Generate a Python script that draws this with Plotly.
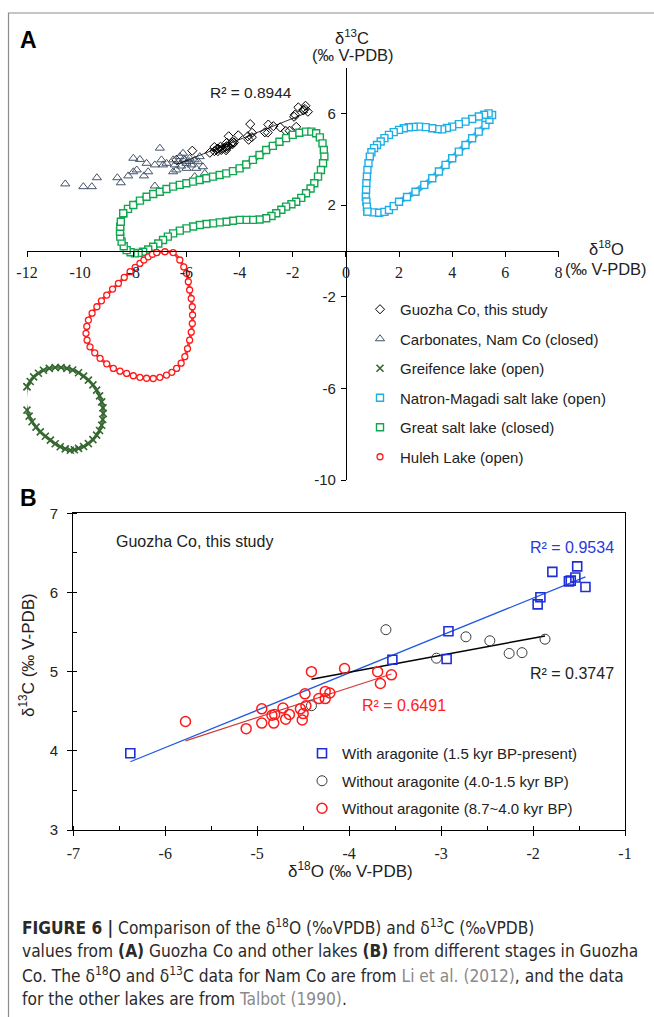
import numpy as np
import plotly.graph_objects as go

W, H = 654, 1017


def fx(p):
    return p / W


def fy(p):
    return 1 - p / H


# ---------------- Panel B data (Guozha Co, this study) ----------------
arag_x = [-6.38, -3.53, -2.94, -2.92, -1.95, -1.92, -1.79, -1.61, -1.59, -1.54, -1.52, -1.43]
arag_y = [3.97, 5.15, 5.16, 5.51, 5.85, 5.94, 6.26, 6.14, 6.15, 6.19, 6.33, 6.07]

mid_x = [-4.41, -3.60, -3.05, -2.73, -2.47, -2.26, -2.12, -1.87]
mid_y = [4.57, 5.53, 5.17, 5.44, 5.39, 5.23, 5.24, 5.41]

early_x = [-5.78, -5.12, -4.95, -4.95, -4.84, -4.81, -4.82, -4.72, -4.69, -4.65, -4.51, -4.53,
           -4.50, -4.48, -4.47, -4.41, -4.33, -4.26, -4.26, -4.21, -4.05, -3.69, -3.54, -3.66]
early_y = [4.37, 4.28, 4.53, 4.35, 4.45, 4.46, 4.35, 4.54, 4.40, 4.46, 4.39, 4.53,
           4.47, 4.72, 4.57, 5.00, 4.66, 4.66, 4.75, 4.73, 5.04, 5.00, 4.96, 4.85]

# ---------------- Panel A data ----------------
namco_x = [-10.56, -9.88, -9.56, -9.37, -8.60, -8.47, -8.00, -7.75, -8.00, -7.87, -8.19, -7.60,
           -7.50, -7.44, -7.19, -7.00, -6.94, -6.88, -7.19, -6.50, -6.44, -6.38, -6.25, -6.13,
           -6.06, -6.00, -5.88, -5.81, -5.69, -5.63, -5.56, -5.50, -5.38, -5.31, -5.69, -6.00,
           -6.50, -6.75, -6.30, -6.10, -5.90, -6.20]
namco_y = [2.92, 2.80, 2.80, 3.19, 3.19, 2.97, 4.04, 3.99, 3.45, 3.53, 3.27, 3.27,
           3.82, 3.45, 3.75, 4.48, 3.97, 3.75, 2.83, 3.97, 3.75, 3.53, 4.11, 4.26,
           3.97, 3.82, 4.04, 3.75, 3.97, 3.60, 3.89, 4.11, 3.67, 3.38, 3.24, 3.60,
           3.45, 3.82, 3.90, 4.00, 3.90, 3.70]

greif_x = [-12.00, -11.88, -11.75, -11.57, -11.38, -11.16, -10.94, -10.72, -10.50, -10.28, -10.06,
           -9.87, -9.69, -9.52, -9.38, -9.27, -9.19, -9.14, -9.13, -9.15, -9.19, -9.27, -9.38,
           -9.52, -9.69, -9.87, -10.06, -10.22, -10.37, -10.56, -10.75, -10.94, -11.12, -11.31,
           -11.50, -11.66, -11.81, -11.92, -12.00, -12.05, -12.06, -12.00]
greif_y = [-5.93, -5.70, -5.50, -5.34, -5.21, -5.13, -5.09, -5.09, -5.13, -5.20, -5.32,
           -5.47, -5.64, -5.85, -6.08, -6.33, -6.59, -6.85, -7.10, -7.36, -7.61, -7.84, -8.04,
           -8.24, -8.41, -8.54, -8.62, -8.68, -8.70, -8.64, -8.55, -8.42, -8.26, -8.09,
           -7.90, -7.69, -7.46, -7.21, -6.95, -6.72, -6.52, -5.93]

natron_x = [0.81, 1.03, 1.25, 1.45, 1.62, 1.80, 2.00, 2.30, 2.62, 2.95, 3.25, 3.50, 3.75, 4.00,
            4.25, 4.50, 4.75, 5.00, 5.25, 5.40, 5.50, 5.37, 5.20, 5.00, 4.75, 4.50, 4.25, 4.00,
            3.80, 3.62, 3.45, 3.25, 3.00, 2.75, 2.55, 2.37, 2.18, 2.00, 1.80, 1.62, 1.45, 1.31,
            1.17, 1.06, 0.96, 0.90, 0.85, 0.81, 0.79, 0.77, 0.76, 0.75, 0.77, 0.79, 0.81]
natron_y = [1.71, 1.68, 1.66, 1.70, 1.78, 1.95, 2.14, 2.35, 2.58, 2.88, 3.17, 3.46, 3.75, 4.04,
            4.33, 4.62, 4.91, 5.20, 5.49, 5.72, 5.93, 6.00, 5.94, 5.86, 5.75, 5.64, 5.53, 5.42,
            5.36, 5.30, 5.31, 5.35, 5.40, 5.42, 5.41, 5.39, 5.35, 5.28, 5.18, 5.06, 4.92, 4.77,
            4.62, 4.48, 4.30, 4.11, 3.82, 3.53, 3.24, 2.95, 2.66, 2.36, 2.15, 1.93, 1.71]

gsl_x = [-8.38, -8.20, -8.00, -7.75, -7.50, -7.25, -7.00, -6.75, -6.50, -6.25, -6.00, -5.75,
         -5.50, -5.25, -5.00, -4.75, -4.50, -4.25, -4.00, -3.75, -3.50, -3.25, -3.00, -2.75,
         -2.50, -2.25, -2.00, -1.75, -1.50, -1.30, -1.12, -0.98, -0.88, -0.83, -0.81, -0.86,
         -0.94, -1.05, -1.19, -1.33, -1.50, -1.68, -1.87, -2.05, -2.25, -2.43, -2.62, -2.80,
         -3.00, -3.25, -3.50, -3.75, -4.00, -4.25, -4.50, -4.75, -5.00, -5.25, -5.50, -5.75,
         -6.00, -6.25, -6.50, -6.70, -6.88, -7.06, -7.25, -7.44, -7.63, -7.80, -7.94, -8.10,
         -8.25, -8.36, -8.44, -8.49, -8.50, -8.49, -8.47, -8.38]
gsl_y = [1.64, 1.83, 2.00, 2.19, 2.36, 2.48, 2.58, 2.70, 2.80, 2.88, 2.95, 3.02,
         3.09, 3.17, 3.24, 3.31, 3.38, 3.48, 3.60, 3.77, 3.97, 4.18, 4.40, 4.58,
         4.76, 4.92, 5.06, 5.15, 5.20, 5.20, 5.13, 4.95, 4.69, 4.40, 4.11, 3.82,
         3.53, 3.24, 2.95, 2.72, 2.51, 2.31, 2.14, 2.03, 1.93, 1.79, 1.64, 1.52,
         1.42, 1.37, 1.35, 1.35, 1.35, 1.31, 1.27, 1.24, 1.20, 1.17, 1.13, 1.06,
         0.98, 0.88, 0.76, 0.62, 0.47, 0.32, 0.18, 0.06, -0.04, -0.09, -0.11, -0.06,
         0.03, 0.20, 0.40, 0.62, 0.83, 1.05, 1.27, 1.64]

huleh_x = [-7.12, -6.81, -6.50, -6.25, -6.10, -6.00, -5.93, -5.88, -5.82, -5.78, -5.77, -5.78,
           -5.82, -5.88, -5.96, -6.06, -6.20, -6.37, -6.55, -6.75, -7.00, -7.25, -7.50, -7.75,
           -8.00, -8.25, -8.50, -8.75, -9.00, -9.25, -9.45, -9.63, -9.74, -9.78, -9.75, -9.69,
           -9.55, -9.37, -9.20, -9.00, -8.78, -8.56, -8.34, -8.12, -7.93, -7.75, -7.60, -7.44,
           -7.28, -7.12]
huleh_y = [-0.08, -0.04, -0.08, -0.40, -0.70, -0.98, -1.35, -1.71, -2.08, -2.44, -2.80, -3.17,
           -3.55, -3.90, -4.27, -4.62, -4.90, -5.13, -5.30, -5.42, -5.52, -5.57, -5.56, -5.52,
           -5.45, -5.35, -5.25, -5.13, -4.93, -4.69, -4.45, -4.19, -3.90, -3.60, -3.30, -3.02,
           -2.72, -2.44, -2.18, -1.93, -1.67, -1.42, -1.16, -0.91, -0.72, -0.55, -0.40, -0.26,
           -0.15, -0.08]

guozha_x = arag_x + mid_x + early_x
guozha_y = arag_y + mid_y + early_y

# tick labels
xa_ticks = list(range(-12, 9, 2))
ya_ticks = [-10, -6, -2, 2, 6]
xb_ticks = list(range(-7, 0))
yb_ticks = [3, 4, 5, 6, 7]

r2_all = "R² = 0.8944"
r2_arag = "R² = 0.9534"
r2_mid = "R² = 0.3747"
r2_early = "R² = 0.6491"


def fit_line(x, y):
    k, b = np.polyfit(x, y, 1)
    xs = np.array([min(x), max(x)])
    return xs, k * xs + b


SANS = "Liberation Sans, Arial, sans-serif"
SERIF = "Liberation Serif, Times New Roman, serif"

fig = go.Figure()

# ---------------- Panel A traces ----------------
loops = [
    ("Greifence lake (open)", greif_x, greif_y, "#34662f", "x-thin", 7, 1.6, 3),
    ("Natron-Magadi salt lake (open)", natron_x, natron_y, "#1eaee6", "square", 7, 1.4, 5.5),
    ("Great salt lake (closed)", gsl_x, gsl_y, "#12a650", "square", 7, 1.4, 5.5),
    ("Huleh Lake (open)", huleh_x, huleh_y, "#ff1a1a", "circle", 6, 1.3, 3),
]

fig.add_trace(go.Scatter(x=guozha_x, y=guozha_y, mode="markers", name="Guozha Co, this study",
                         legendgroup="g1", legend="legend",
                         marker=dict(symbol="diamond-open", size=7, color="black", line=dict(width=1)),
                         xaxis="x", yaxis="y"))
fig.add_trace(go.Scatter(x=namco_x, y=namco_y, mode="markers", name="Carbonates, Nam Co (closed)",
                         legendgroup="g2", legend="legend",
                         marker=dict(symbol="triangle-up-open", size=8, color="#44546a", line=dict(width=1)),
                         xaxis="x", yaxis="y"))
lx, ly = fit_line(guozha_x, guozha_y)
fig.add_trace(go.Scatter(x=lx, y=ly, mode="lines", showlegend=False, legendgroup="g1",
                         line=dict(color="black", width=0.8), xaxis="x", yaxis="y"))

for i, (name, xs, ys, col, sym, sz, lw, bw) in enumerate(loops):
    grp = "g%d" % (i + 3)
    fig.add_trace(go.Scatter(x=xs, y=ys, mode="lines", showlegend=False, legendgroup=grp,
                             line=dict(color=col, width=bw, shape="spline", smoothing=0.8),
                             opacity=0.85, cliponaxis=False, xaxis="x", yaxis="y"))
    if sym == "x-thin":
        mk = dict(symbol="x-thin", size=sz, line=dict(width=lw, color=col), color=col)
    else:
        mk = dict(symbol=sym, size=sz, color="white", line=dict(width=lw, color=col))
    fig.add_trace(go.Scatter(x=xs, y=ys, mode="markers", name=name, legendgroup=grp, legend="legend",
                             marker=mk, cliponaxis=False, xaxis="x", yaxis="y"))

# ---------------- Panel B traces ----------------
bx, by = fit_line(arag_x, arag_y)
fig.add_trace(go.Scatter(x=bx, y=by, mode="lines", showlegend=False, line=dict(color="#1f5ae0", width=1.3),
                         xaxis="x2", yaxis="y2"))
mx, my = fit_line(mid_x, mid_y)
fig.add_trace(go.Scatter(x=mx, y=my, mode="lines", showlegend=False, line=dict(color="black", width=1.5),
                         xaxis="x2", yaxis="y2"))
ex, ey = fit_line(early_x, early_y)
fig.add_trace(go.Scatter(x=ex, y=ey, mode="lines", showlegend=False, line=dict(color="#d03a3a", width=1.2),
                         xaxis="x2", yaxis="y2"))

fig.add_trace(go.Scatter(x=arag_x, y=arag_y, mode="markers", name="With aragonite (1.5 kyr BP-present)",
                         legend="legend2", legendgroup="b1",
                         marker=dict(symbol="square-open", size=9, color="#1f2fd6", line=dict(width=1.6)),
                         xaxis="x2", yaxis="y2"))
fig.add_trace(go.Scatter(x=mid_x, y=mid_y, mode="markers", name="Without aragonite (4.0-1.5 kyr BP)",
                         legend="legend2", legendgroup="b2",
                         marker=dict(symbol="circle-open", size=10, color="#3a3a3a", line=dict(width=1)),
                         xaxis="x2", yaxis="y2"))
fig.add_trace(go.Scatter(x=early_x, y=early_y, mode="markers", name="Without aragonite (8.7~4.0 kyr BP)",
                         legend="legend2", legendgroup="b3",
                         marker=dict(symbol="circle-open", size=10, color="#ff1a1a", line=dict(width=1.5)),
                         xaxis="x2", yaxis="y2"))


def lab(v):
    return str(v).replace("\u2212", "-")


axis_common = dict(showgrid=False, zeroline=False, showline=True, linecolor="black", linewidth=1.3,
                   ticks="outside", ticklen=5, tickcolor="black", tickwidth=1.2, automargin=False)

fig.update_layout(
    width=W, height=H, margin=dict(l=0, r=0, t=0, b=0),
    paper_bgcolor="white", plot_bgcolor="rgba(0,0,0,0)",
    template="none",
    font=dict(family=SANS, size=15, color="#222"),
    xaxis=dict(domain=[fx(27), fx(558.5)], range=[-12, 8], anchor="free", position=fy(250.8),
               tickvals=xa_ticks, ticktext=[lab(v) for v in xa_ticks],
               tickfont=dict(family=SERIF, size=16, color="#222"), ticklabelstandoff=2, **axis_common),
    yaxis=dict(domain=[fy(480), fy(67.5)], range=[-10, 8], anchor="free", position=fx(346.1),
               tickvals=ya_ticks, ticktext=[lab(v) for v in ya_ticks],
               tickfont=dict(family=SANS, size=15, color="#222"), ticklabelstandoff=2, **axis_common),
    xaxis2=dict(domain=[fx(73.3), fx(625)], range=[-7, -1], anchor="y2", mirror=True,
                tickvals=xb_ticks, ticktext=[lab(v) for v in xb_ticks],
                minor=dict(dtick=0.5, ticks="inside", ticklen=4, tickcolor="black", showgrid=False),
                tickfont=dict(family=SERIF, size=16, color="#222"), ticklabelstandoff=4, **axis_common),
    yaxis2=dict(domain=[fy(830), fy(513.3)], range=[3, 7], anchor="x2", mirror=True,
                tickvals=yb_ticks, ticktext=[lab(v) for v in yb_ticks],
                minor=dict(dtick=0.5, ticks="inside", ticklen=4, tickcolor="black", showgrid=False),
                tickfont=dict(family=SANS, size=15, color="#222"), ticklabelstandoff=6, **axis_common),
    legend=dict(x=fx(360), y=fy(293), xanchor="left", yanchor="top", bgcolor="rgba(0,0,0,0)",
                font=dict(family=SANS, size=15, color="#222"), traceorder="grouped", tracegroupgap=7,
                itemwidth=30, borderwidth=0),
    legend2=dict(x=fx(302), y=fy(737), xanchor="left", yanchor="top", bgcolor="rgba(0,0,0,0)",
                 font=dict(family=SANS, size=15, color="#222"), traceorder="grouped", tracegroupgap=5,
                 itemwidth=30, borderwidth=0),
    showlegend=True,
)

ann = []


def add(text, x, y, size=15, color="#222", family=SANS, angle=0, xanchor="center"):
    ann.append(dict(text=text, x=fx(x), y=fy(y), xref="paper", yref="paper", showarrow=False,
                    xanchor=xanchor, yanchor="middle", textangle=angle,
                    font=dict(size=size, color=color, family=family)))


add("<b>A</b>", 28, 40, size=23, color="black")
add("<b>B</b>", 28, 498, size=23, color="black")
add("δ<sup>13</sup>C", 352, 37, size=16.5)
add("(‰ V-PDB)", 353, 55, size=16.5)
add("δ<sup>18</sup>O", 606, 248, size=16.5)
add("(‰ V-PDB)", 606, 269, size=16.5)
add(r2_all, 251, 93, size=15.5)
add("Guozha Co, this study", 194.5, 541, size=16)
add(r2_arag, 571.7, 547, size=16, color="#2b39d9")
add(r2_mid, 571.7, 673, size=16)
add(r2_early, 404, 705, size=16, color="#ff2020")
add("δ<sup>13</sup>C (‰ V-PDB)", 27, 655, size=17, angle=-90)
add("δ<sup>18</sup>O (‰ V-PDB)", 350, 870, size=17)

CAP = "Liberation Sans Narrow, DejaVu Sans Condensed, Arial Narrow, sans-serif"
cap_lines = [
    "<b>FIGURE 6 |</b> Comparison of the δ<sup>18</sup>O (‰VPDB) and δ<sup>13</sup>C (‰VPDB)",
    "values from <b>(A)</b> Guozha Co and other lakes <b>(B)</b> from different stages in Guozha",
    "Co. The δ<sup>18</sup>O and δ<sup>13</sup>C data for Nam Co are from "
    "<span style='color:#8a8a8a'>Li et al. (2012)</span>, and the data",
    "for the other lakes are from <span style='color:#8a8a8a'>Talbot (1990)</span>.",
]
for i, t in enumerate(cap_lines):
    add(t, 20, 927 + 24 * i, size=17.2, color="#2a2a2a", family=CAP, xanchor="left")

fig.update_layout(annotations=ann)

fig.add_shape(type="rect", xref="paper", yref="paper", x0=fx(8.5), x1=1.05, y0=-0.05, y1=fy(13),
              line=dict(color="#8c8c8c", width=1.2), fillcolor="rgba(0,0,0,0)", layer="below")

fig.write_html("out.html")
